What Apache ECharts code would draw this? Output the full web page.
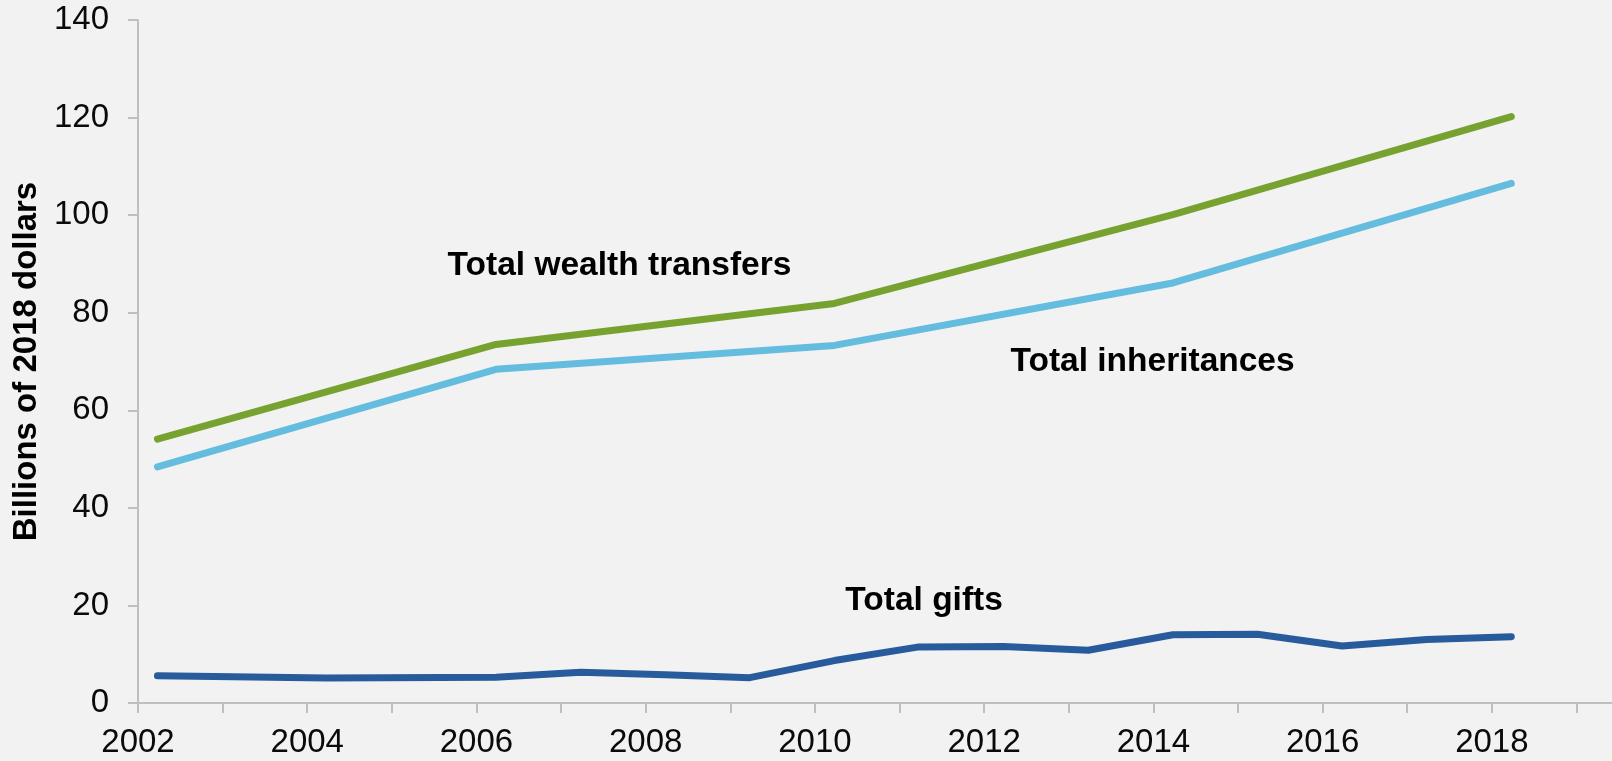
<!DOCTYPE html>
<html>
<head>
<meta charset="utf-8">
<script src="https://cdn.jsdelivr.net/npm/echarts@6/dist/echarts.min.js"></script>
<style>
  html, body { margin: 0; padding: 0; background: #f2f2f2; }
  #chart { width: 1612px; height: 761px; }
</style>
</head>
<body>
<div id="chart"></div>
<script>
// survey years, values in billions of 2018 dollars
const transferYears = [2002, 2006, 2010, 2014, 2018];
const wealthTransfers = [54.1, 73.5, 81.9, 100.1, 120.2];
const inheritances = [48.4, 68.4, 73.3, 86.1, 106.5];

const giftYears = [2002, 2004, 2006, 2007, 2008, 2009, 2010, 2011, 2012, 2013, 2014, 2015, 2016, 2017, 2018];
const gifts = [5.6, 5.1, 5.3, 6.3, 5.8, 5.2, 8.7, 11.5, 11.6, 10.8, 14.0, 14.1, 11.7, 13.0, 13.6];

const yTicks = [0, 20, 40, 60, 80, 100, 120, 140];

// labels for the lines: [text, year, value]
const lineLabels = [
  ['Total wealth transfers', 2007.69, 89.6],
  ['Total inheritances', 2013.99, 69.9],
  ['Total gifts', 2011.29, 20.9]
];

// points sit a little into each year on the axis
const yearShift = 0.23;
const pairs = (xs, ys) => xs.map((x, i) => [x + yearShift, ys[i]]);

const font = '"Liberation Sans", Arial, Helvetica, sans-serif';
const grey = '#bfbfbf';

const chart = echarts.init(document.getElementById('chart'));

const lineSeries = (name, data, color) => ({
  name: name,
  type: 'line',
  data: data,
  showSymbol: false,
  symbol: 'none',
  silent: true,
  lineStyle: { color: color, width: 7, cap: 'round', join: 'round' }
});

chart.setOption({
  backgroundColor: '#f2f2f2',
  animation: false,
  grid: { left: 138, right: 0, top: 20, bottom: 58, containLabel: false },
  xAxis: {
    type: 'value',
    min: 2002,
    max: 2019.42,
    interval: 1,
    axisLine: { show: true, lineStyle: { color: grey, width: 2 } },
    axisTick: { show: true, length: 10, lineStyle: { color: grey, width: 2 } },
    splitLine: { show: false },
    axisLabel: {
      margin: 23,
      color: '#0a0a0a',
      fontFamily: font,
      fontSize: 33,
      showMaxLabel: false,
      formatter: v => (Number.isInteger(v) && v % 2 === 0) ? String(v) : ''
    }
  },
  yAxis: {
    type: 'value',
    min: yTicks[0],
    max: yTicks[yTicks.length - 1],
    interval: 20,
    name: 'Billions of 2018 dollars',
    nameLocation: 'middle',
    nameRotate: 90,
    nameGap: 89,
    nameTextStyle: { fontFamily: font, fontSize: 33, fontWeight: 'bold', color: '#000' },
    axisLine: { show: true, lineStyle: { color: grey, width: 2 } },
    axisTick: { show: true, length: 10, lineStyle: { color: grey, width: 2 } },
    splitLine: { show: false },
    axisLabel: { margin: 29, color: '#0a0a0a', fontFamily: font, fontSize: 33 }
  },
  series: [
    lineSeries('Total gifts', pairs(giftYears, gifts), '#285b9b'),
    lineSeries('Total inheritances', pairs(transferYears, inheritances), '#64bcde'),
    lineSeries('Total wealth transfers', pairs(transferYears, wealthTransfers), '#77a22f')
  ]
});

chart.setOption({
  graphic: lineLabels.map(([text, x, y]) => {
    const p = chart.convertToPixel({ gridIndex: 0 }, [x, y]);
    return {
      type: 'text',
      x: p[0],
      y: p[1],
      style: {
        text: text,
        font: 'bold 33.5px ' + font,
        fill: '#000',
        align: 'center',
        verticalAlign: 'middle'
      }
    };
  })
});
</script>
</body>
</html>
